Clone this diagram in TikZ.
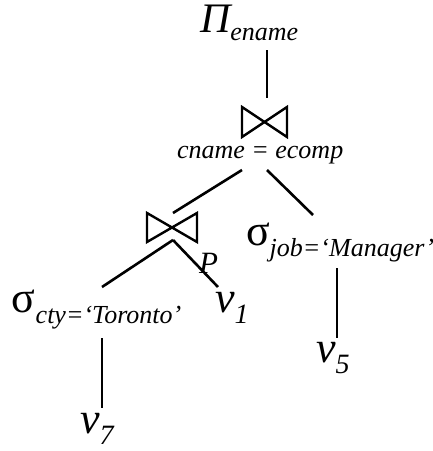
\documentclass[tikz,border=0pt]{standalone}
\usepackage{fontspec}
\setmainfont{Liberation Serif}
\newcommand{\bigtxt}[1]{\fontsize{44}{44}\selectfont #1}
\newcommand{\subtxt}[1]{\fontsize{26}{26}\selectfont\itshape #1}
\newcommand{\vsubtxt}[1]{\fontsize{28}{28}\selectfont\itshape #1}
\begin{document}
\begin{tikzpicture}[x=1pt,y=-1pt,
  lbl/.style={anchor=base west,inner sep=0pt,outer sep=0pt},
  edge/.style={line width=2.6pt},
  tie/.style={line width=2.4pt,line join=miter}]
\useasboundingbox (0,0) rectangle (433,451);
% labels
\node[lbl] (pi) at (200,32) {\fontsize{42}{42}\selectfont\itshape Π\raisebox{-8pt}{\fontsize{26}{26}\selectfont ename}};
\node[lbl] (cond) at (177,158) {\fontsize{26}{26}\selectfont\itshape cname = ecomp};
\node[lbl] (p) at (199,273) {\fontsize{31}{31}\selectfont\itshape P};
\node[lbl] (scty) at (12,312) {\bigtxt{σ}\raisebox{-11pt}{\subtxt{cty}{\fontsize{26}{26}\selectfont=}\subtxt{‘Toronto’}}};
\node[lbl] (v1) at (215,312) {\bigtxt{\itshape v}\raisebox{-11pt}{\vsubtxt{1}}};
\node[lbl] (sjob) at (246,245) {\bigtxt{σ}\raisebox{-11pt}{\subtxt{job}{\fontsize{26}{26}\selectfont=}\subtxt{‘Manager’}}};
\node[lbl] (v5) at (316,362) {\bigtxt{\itshape v}\raisebox{-11pt}{\vsubtxt{5}}};
\node[lbl] (v7) at (80,433) {\bigtxt{\itshape v}\raisebox{-11pt}{\vsubtxt{7}}};
% join symbols
\coordinate (j1) at (264.5,122);
\coordinate (j2) at (172,227.5);
\draw[tie] (242,107) -- (287,137) -- (287,107) -- (242,137) -- cycle;
\draw[tie] (147,213) -- (197,242) -- (197,213) -- (147,242) -- cycle;
% connector end points
\coordinate (piB) at (267,50);
\coordinate (j1T) at (267,98);
\coordinate (j1L) at (242,170);
\coordinate (j1R) at (267,170);
\coordinate (j2T) at (173,213);
\coordinate (sjobT) at (313,215);
\coordinate (j2B) at (173,240);
\coordinate (sctyT) at (102,287);
\coordinate (v1T) at (218,287);
\coordinate (sctyB) at (102,338);
\coordinate (v7T) at (102,408);
\coordinate (sjobB) at (337,268);
\coordinate (v5T) at (337,338);
\draw[edge] (piB) -- (j1T);
\draw[edge] (j1L) -- (j2T);
\draw[edge] (j1R) -- (sjobT);
\draw[edge] (j2B) -- (sctyT);
\draw[edge] (j2B) -- (v1T);
\draw[edge] (sctyB) -- (v7T);
\draw[edge] (sjobB) -- (v5T);
\end{tikzpicture}
\end{document}
